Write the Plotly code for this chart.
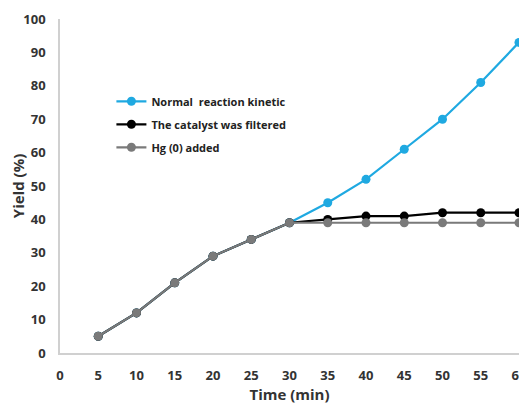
import plotly.graph_objects as go

time_min = [5, 10, 15, 20, 25, 30, 35, 40, 45, 50, 55, 60]
normal_yield = [5, 12, 21, 29, 34, 39, 45, 52, 61, 70, 81, 93]
filtered_yield = [5, 12, 21, 29, 34, 39, 40, 41, 41, 42, 42, 42]
hg_yield = [5, 12, 21, 29, 34, 39, 39, 39, 39, 39, 39, 39]

series = [
    ("Normal  reaction kinetic", normal_yield, "#1fa9e1"),
    ("The catalyst was filtered", filtered_yield, "#000000"),
    ("Hg (0) added", hg_yield, "#7a7a7a"),
]

fig = go.Figure()
for name, ys, color in series:
    fig.add_trace(go.Scatter(
        x=time_min, y=ys, name=name, mode="lines+markers", legendgroup=name,
        line=dict(color=color, width=2.2),
        marker=dict(color=color, size=9),
        cliponaxis=False,
    ))

# the page body adds an 8px margin, so the figure is a bit smaller than the window
font = "Open Sans"
fig.update_layout(
    width=519, height=396,
    margin=dict(l=52, r=8, t=11, b=51),
    plot_bgcolor="white", paper_bgcolor="white",
    font=dict(family=font, color="#333333"),
    showlegend=True,
    legend=dict(
        x=0.112, y=0.797, xanchor="left", yanchor="top",
        bgcolor="rgba(0,0,0,0)",
        font=dict(size=11, family=font, color="#222222", weight="bold"),
        tracegroupgap=4, itemwidth=30,
    ),
    xaxis=dict(
        range=[0, 60], tickmode="array", tickvals=list(range(0, 61, 5)),
        showgrid=False, zeroline=False, showline=True, linecolor="#d0d0d0", linewidth=1.5,
        ticks="", ticklabelstandoff=10, automargin=False,
        tickfont=dict(size=13, weight="bold", color="#333333"),
        title=dict(text="Time (min)", font=dict(size=15, weight="bold", color="#333333"), standoff=0),
    ),
    yaxis=dict(
        range=[0, 100], tickmode="array", tickvals=list(range(0, 101, 10)),
        showgrid=False, zeroline=False, showline=True, linecolor="#d0d0d0", linewidth=1.5,
        ticks="", ticklabelstandoff=10, automargin=False,
        tickfont=dict(size=13, weight="bold", color="#333333"),
        title=dict(text="Yield (%)", font=dict(size=15, weight="bold", color="#333333"), standoff=6),
    ),
)

fig.write_html("out.html")
